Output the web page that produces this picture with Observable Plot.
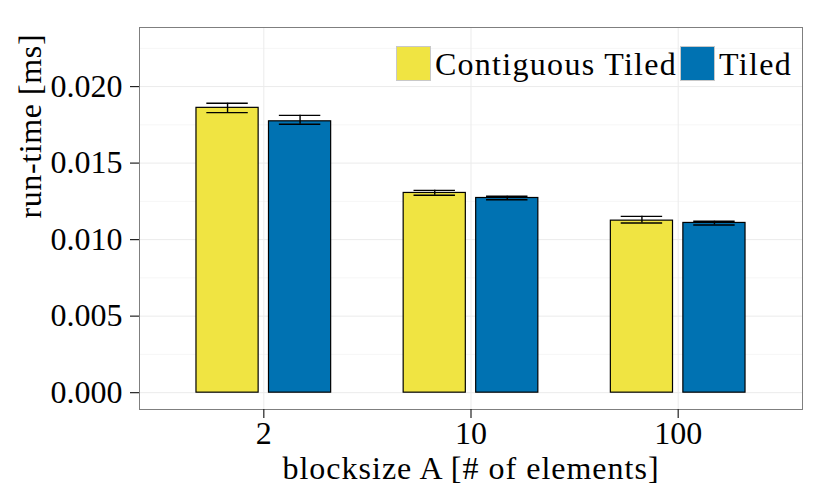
<!DOCTYPE html>
<html>
<head>
<meta charset="utf-8">
<script src="https://cdn.jsdelivr.net/npm/d3@7"></script>
<script src="https://cdn.jsdelivr.net/npm/@observablehq/plot@0.6"></script>
<style>
  html, body { margin: 0; padding: 0; background: #fff; }
  #wrap { position: relative; width: 830px; height: 498px; font-family: "Liberation Serif", "DejaVu Serif", serif; }
  #legend { position: absolute; right: 38px; top: 46px; display: flex; align-items: center; font-size: 32px; color: #000; line-height: 34px; letter-spacing: 1.3px; }
  #legend .sw { width: 33px; height: 33px; border: 1px solid #c8c8c8; margin-right: 4px; }
  #legend .item { display: flex; align-items: center; margin-left: 3px; }
</style>
</head>
<body>
<div id="wrap"><div id="legend"></div></div>
<script>
const categories = ["2", "10", "100"];
const series = ["Contiguous Tiled", "Tiled"];
const colors = ["#F0E442", "#0072B2"];
const ctMean = [0.01861, 0.01305, 0.01124];
const ctLo = [0.01830, 0.01290, 0.01109];
const ctHi = [0.01891, 0.01322, 0.01152];
const tiledMean = [0.01773, 0.01272, 0.01109];
const tiledLo = [0.01754, 0.01261, 0.01096];
const tiledHi = [0.01812, 0.01283, 0.01120];
const yTicks = [0, 0.005, 0.010, 0.015, 0.020];
const yMinor = [0.0025, 0.0075, 0.0125, 0.0175, 0.0225];
const xTitle = "blocksize A [# of elements]";
const yTitle = "run-time [ms]";

const FONT = "'Liberation Serif', 'DejaVu Serif', serif";
const dodge = 0.175, barW = 0.3, capW = 0.2;
const rows = [];
[[ctMean, ctLo, ctHi], [tiledMean, tiledLo, tiledHi]].forEach(([m, lo, hi], k) => {
  categories.forEach((c, i) => {
    rows.push({cat: c, series: series[k], xc: i + (k === 0 ? -dodge : dodge), mean: m[i], lo: lo[i], hi: hi[i]});
  });
});

const chart = Plot.plot({
  width: 830, height: 498,
  marginLeft: 139, marginRight: 28, marginTop: 27, marginBottom: 89,
  style: {fontFamily: FONT, fontSize: "32px", background: "#fff", color: "#000"},
  x: {type: "linear", domain: [-0.6, 2.6]},
  y: {domain: [-0.0011, 0.02386]},
  color: {domain: series, range: colors},
  marks: [
    Plot.ruleY(yMinor, {stroke: "#f6f6f6", strokeWidth: 1}),
    Plot.ruleY(yTicks, {stroke: "#ebebeb", strokeWidth: 1}),
    Plot.ruleX(d3.range(categories.length), {stroke: "#ebebeb", strokeWidth: 1}),
    Plot.rectY(rows, {x1: d => d.xc - barW / 2, x2: d => d.xc + barW / 2, y1: 0, y2: "mean", fill: "series", stroke: "#000", strokeWidth: 1.2}),
    Plot.ruleX(rows, {x: "xc", y1: "lo", y2: "hi", stroke: "#000", strokeWidth: 1.4}),
    Plot.ruleY(rows, {x1: d => d.xc - capW / 2, x2: d => d.xc + capW / 2, y: "lo", stroke: "#000", strokeWidth: 1.4}),
    Plot.ruleY(rows, {x1: d => d.xc - capW / 2, x2: d => d.xc + capW / 2, y: "hi", stroke: "#000", strokeWidth: 1.4}),
    Plot.frame({stroke: "#7f7f7f", strokeWidth: 1}),
    Plot.axisY({ticks: yTicks, tickFormat: d3.format(".3f"), tickSize: 9, tickPadding: 8, fontSize: 32, fontFamily: FONT, label: null, stroke: "#222", strokeWidth: 1.2}),
    Plot.axisX({ticks: d3.range(categories.length), tickFormat: i => categories[i], tickSize: 9, tickPadding: 3, fontSize: 32, fontFamily: FONT, label: null, stroke: "#222", strokeWidth: 1.2}),
    Plot.text([yTitle], {frameAnchor: "left", dx: -109, rotate: -90, lineAnchor: "middle", fontSize: 32, fontFamily: FONT}),
    Plot.text([xTitle], {frameAnchor: "bottom", dy: 59, lineAnchor: "middle", fontSize: 32, fontFamily: FONT})
  ]
});
d3.select(chart).selectAll("text")
  .filter(function() { return this.textContent === xTitle; })
  .attr("letter-spacing", "1px");
d3.select(chart).selectAll("text")
  .filter(function() { return this.textContent === yTitle; })
  .attr("letter-spacing", "0.6px");
const wrap = document.getElementById("wrap");
wrap.insertBefore(chart, wrap.firstChild);

const legend = document.getElementById("legend");
series.forEach((s, k) => {
  const item = document.createElement("div");
  item.className = "item";
  const sw = document.createElement("div");
  sw.className = "sw";
  sw.style.background = colors[k];
  const t = document.createElement("span");
  t.textContent = s;
  item.appendChild(sw); item.appendChild(t);
  legend.appendChild(item);
});
</script>
</body>
</html>
